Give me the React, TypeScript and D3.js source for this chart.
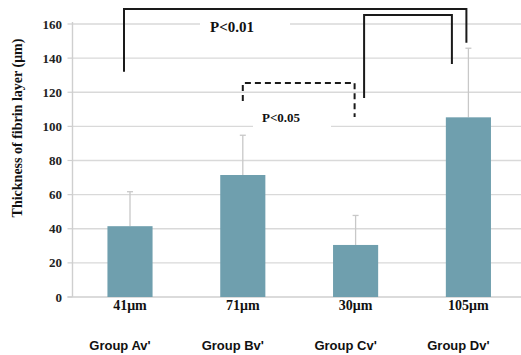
import React from 'react';
import { scaleBand, scaleLinear } from 'd3';

const groups = ["Group Av'", "Group Bv'", "Group Cv'", "Group Dv'"];
const means = [41.5, 71.5, 30.5, 105.3];
const errors = [20.2, 23.3, 17.3, 40.5];
const valueLabels = ['41μm', '71μm', '30μm', '105μm'];
const yTicks = [0, 20, 40, 60, 80, 100, 120, 140, 160];

// significance brackets: from/to group index, leg ends and top in data units
const brackets = [
  { from: 0, to: 3, fromShift: -6, toShift: -2, left: 132, top: 168.8, right: 149, dashed: false },
  { from: 2, to: 3, fromShift: 8.5, toShift: -16.5, left: 116.6, top: 165.3, right: 136.6, dashed: false },
  { from: 1, to: 2, fromShift: 0, toShift: -1, left: 114.9, top: 125.4, right: 105.5, dashed: true },
];

const W = 521;
const H = 355;
const left = 72.5;
const bottom = 297;
const top = 24;

export default function App() {
  const x = scaleBand<string>().domain(groups).range([73.6, 524.8]).paddingInner(0.6).paddingOuter(0.3);
  const y = scaleLinear().domain([0, 160]).range([bottom, top]);
  const bw = x.bandwidth();
  const cx = (i: number) => (x(groups[i]) as number) + bw / 2;

  return (
    <svg width={W} height={H} style={{ position: 'absolute', left: 0, top: 0, background: '#fff' }}>
      {yTicks.map((t) => (
        <g key={t}>
          {t > 0 && <line x1={left} x2={W} y1={y(t)} y2={y(t)} stroke="#d9d9d9" strokeWidth={1.4} />}
          <line x1={left - 5} x2={left} y1={y(t)} y2={y(t)} stroke="#cfcfcf" strokeWidth={1.2} />
          <text x={62} y={y(t) + 4.5} textAnchor="end" fontFamily="Liberation Serif, Times New Roman, serif" fontWeight="bold" fontSize={13} fill="#222">
            {t}
          </text>
        </g>
      ))}
      <line x1={left} x2={left} y1={top - 2} y2={bottom} stroke="#cfcfcf" strokeWidth={1.4} />
      <line x1={left - 5} x2={W} y1={bottom} y2={bottom} stroke="#cfcfcf" strokeWidth={1.4} />

      {/* white boxes behind p-value labels */}
      <rect x={200} y={16} width={90} height={18} fill="#fff" />
      <rect x={253} y={108} width={78} height={20} fill="#fff" />

      {groups.map((g, i) => (
        <g key={g}>
          <line x1={cx(i)} x2={cx(i)} y1={y(means[i])} y2={y(means[i] + errors[i])} stroke="#c8c8c8" strokeWidth={1.3} />
          <line x1={cx(i) - 3} x2={cx(i) + 3} y1={y(means[i] + errors[i])} y2={y(means[i] + errors[i])} stroke="#c8c8c8" strokeWidth={1.3} />
          <rect x={x(g)} y={y(means[i])} width={bw} height={bottom - y(means[i])} fill="#6f9fae" />
          <text x={cx(i)} y={310} textAnchor="middle" fontFamily="Liberation Serif, Times New Roman, serif" fontWeight="bold" fontSize={14} fill="#111">
            {valueLabels[i]}
          </text>
          <text x={cx(i) - 10} y={350} textAnchor="middle" fontFamily="Liberation Sans, Arial, sans-serif" fontWeight="bold" fontSize={13} fill="#111">
            {g}
          </text>
        </g>
      ))}

      {brackets.map((b, i) => {
        const x1 = cx(b.from) + b.fromShift;
        const x2 = cx(b.to) + b.toShift;
        return (
          <path
            key={i}
            d={`M${x1},${y(b.left)}V${y(b.top)}H${x2}V${y(b.right)}`}
            fill="none"
            stroke="#1a1a1a"
            strokeWidth={2}
            strokeDasharray={b.dashed ? '6,4' : undefined}
          />
        );
      })}

      <text x={232} y={32} textAnchor="middle" fontFamily="Liberation Serif, Times New Roman, serif" fontWeight="bold" fontSize={15} fill="#111">
        P&lt;0.01
      </text>
      <text x={281} y={121.5} textAnchor="middle" fontFamily="Liberation Serif, Times New Roman, serif" fontWeight="bold" fontSize={13} fill="#111">
        P&lt;0.05
      </text>

      <text
        transform={`translate(22,${128}) rotate(-90)`}
        textAnchor="middle"
        fontFamily="Liberation Serif, Times New Roman, serif"
        fontWeight="bold"
        fontSize={14}
        fill="#111"
      >
        Thickness of fibrin layer (μm)
      </text>
    </svg>
  );
}
